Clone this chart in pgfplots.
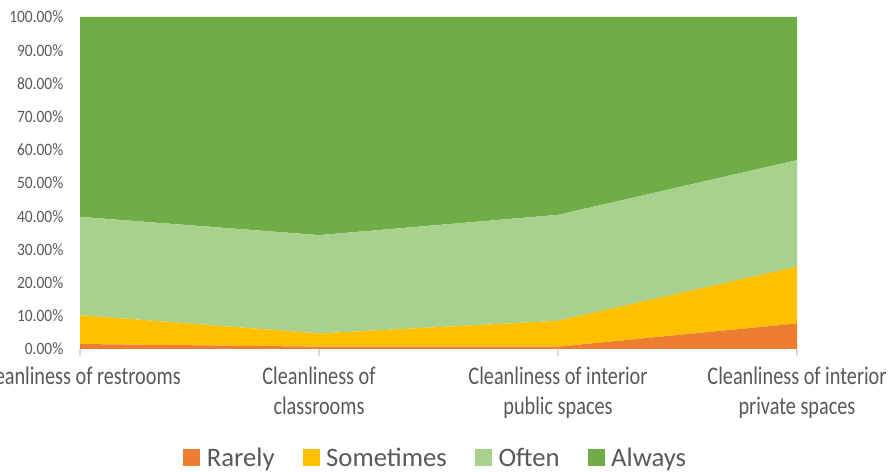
\documentclass[border=0pt]{standalone}
\usepackage{fontspec}
\setmainfont{Carlito}
\newfontfamily\catfont{Carlito}[FakeStretch=0.8]
\newfontfamily\tickfont{Carlito}[FakeStretch=0.89]
\usepackage{pgfplots}
\pgfplotsset{compat=1.18}
\definecolor{rarely}{HTML}{ED7D31}
\definecolor{sometimes}{HTML}{FFC000}
\definecolor{often}{HTML}{A9D18E}
\definecolor{always}{HTML}{70AD47}
\definecolor{txt}{HTML}{595959}
\definecolor{axln}{HTML}{D9D9D9}

\begin{document}
\begin{tikzpicture}
\begin{axis}[
    scale only axis,
    width=537.75pt, height=249pt,
    stack plots=y,
    area style,
    xmin=0, xmax=3,
    ymin=0, ymax=100,
    axis x line*=bottom,
    axis y line*=left,
    axis line style={draw=none},
    xtick={0,1,2,3},
    xticklabels={Cleanliness of restrooms, Cleanliness of\\classrooms, Cleanliness of interior\\public spaces, Cleanliness of interior\\private spaces},
    xticklabel style={align=center, font=\catfont\fontsize{19}{22.5}\selectfont, text=txt, yshift=-5pt},
    x tick style={draw=axln, line width=0.9pt},
    major tick length=5pt,
    tick align=outside,
    ytick={0,10,...,100},
    yticklabel style={font=\tickfont\fontsize{13}{14}\selectfont, text=txt, xshift=-4pt},
    yticklabel={\pgfmathprintnumber[fixed,fixed zerofill,precision=2]{\tick}\%},
    /pgf/number format/assume math mode=true,
    y tick style={draw=none},
    legend style={draw=none, at={(0.4965,-0.328)}, anchor=center,
        legend columns=4, font=\fontsize{20}{22}\selectfont, text=txt,
        /tikz/every odd column/.append style={column sep=3pt},
        /tikz/every even column/.append style={column sep=19pt}},
    legend image code/.code={\fill[#1] (0pt,-6.4pt) rectangle (12.75pt,6.4pt);},
]
\addplot[fill=rarely, draw=none] coordinates {(0,1.5) (1,0.7) (2,0.7) (3,7.7)} \closedcycle;
\addlegendentry{Rarely}
\addplot[fill=sometimes, draw=none] coordinates {(0,8.7) (1,4.0) (2,7.8) (3,17.1)} \closedcycle;
\addlegendentry{Sometimes}
\addplot[fill=often, draw=none] coordinates {(0,29.6) (1,29.6) (2,31.9) (3,32.1)} \closedcycle;
\addlegendentry{Often}
\addplot[fill=always, draw=none] coordinates {(0,60.2) (1,65.7) (2,59.6) (3,43.1)} \closedcycle;
\addlegendentry{Always}
\draw[axln, line width=0.9pt] (rel axis cs:0,0) -- (rel axis cs:1,0);
\coordinate (bl) at (rel axis cs:-0.1116,-0.3705);
\coordinate (tr) at (rel axis cs:1.1325,1.0512);
\end{axis}
\pgfresetboundingbox
\path[use as bounding box] (bl) rectangle (tr);
\end{tikzpicture}
\end{document}
